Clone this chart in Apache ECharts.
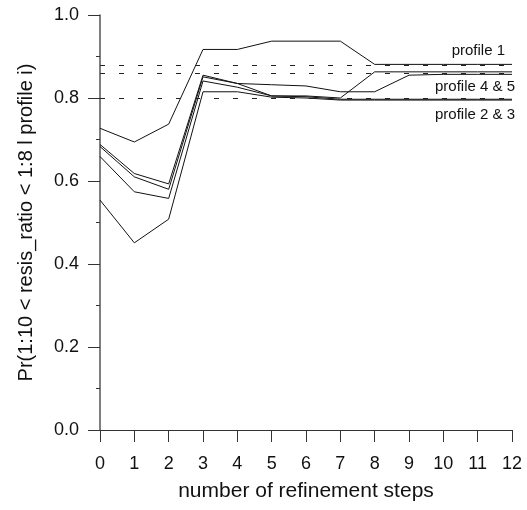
<!DOCTYPE html>
<html>
<head>
<meta charset="utf-8">
<script src="https://cdn.jsdelivr.net/npm/echarts@6/dist/echarts.min.js"></script>
<style>
  html, body { margin: 0; padding: 0; background: #fff; }
  #chart { width: 527px; height: 510px; }
</style>
</head>
<body>
<div id="chart"></div>
<script>
// refinement steps on the x axis
var steps = ["0", "1", "2", "3", "4", "5", "6", "7", "8", "9", "10", "11", "12"];

// probability for each profile
var profile1 = [0.727, 0.694, 0.737, 0.917, 0.917, 0.937, 0.937, 0.937, 0.881, 0.881, 0.881, 0.881, 0.881];
var profile4 = [0.688, 0.618, 0.593, 0.855, 0.835, 0.832, 0.829, 0.815, 0.815, 0.855, 0.857, 0.857, 0.857];
var profile5 = [0.683, 0.610, 0.580, 0.851, 0.835, 0.805, 0.805, 0.800, 0.863, 0.863, 0.863, 0.863, 0.863];
var profile2 = [0.659, 0.574, 0.558, 0.841, 0.826, 0.805, 0.803, 0.797, 0.797, 0.797, 0.797, 0.797, 0.797];
var profile3 = [0.554, 0.451, 0.508, 0.815, 0.815, 0.802, 0.800, 0.795, 0.795, 0.795, 0.795, 0.795, 0.795];

// dashed reference levels
var refLevels = [0.883, 0.863, 0.803];

var yTicks = ["0.0", "0.2", "0.4", "0.6", "0.8", "1.0"];

(function() {
  var myChart = echarts.init(document.getElementById("chart"));
  var fnt = "'Liberation Sans Narrow', 'Liberation Sans', sans-serif";

  function lineSeries(name, data, withRefs) {
    var s = {
      name: name,
      type: "line",
      data: data,
      symbol: "none",
      silent: true,
      lineStyle: { color: "#111", width: 1 },
      z: 3
    };
    if (withRefs) {
      s.markLine = {
        silent: true,
        symbol: ["none", "none"],
        label: { show: false },
        lineStyle: { color: "#222", type: [5, 14], width: 1 },
        data: refLevels.map(function(v) { return { yAxis: v }; })
      };
    }
    return s;
  }

  var option = {
    animation: false,
    grid: {
      left: 100,
      right: 15,
      top: 15,
      bottom: 80
    },
    xAxis: {
      type: "category",
      data: steps,
      boundaryGap: false,
      name: "number of refinement steps",
      nameLocation: "middle",
      nameGap: 51,
      nameTextStyle: { color: "#111", fontSize: 21, fontFamily: fnt },
      axisLine: { lineStyle: { color: "#333", width: 1 } },
      axisTick: { inside: false, length: 12, lineStyle: { color: "#333" } },
      axisLabel: { color: "#111", fontSize: 18, fontFamily: fnt, margin: 25 },
      splitLine: { show: false }
    },
    yAxis: {
      type: "value",
      min: 0,
      max: 1,
      interval: 0.2,
      name: "Pr(1:10 < resis_ratio < 1:8 l profile i)",
      nameLocation: "middle",
      nameGap: 64,
      nameTextStyle: { color: "#111", fontSize: 20, fontFamily: fnt },
      axisLine: { show: true, lineStyle: { color: "#555", width: 1.5 } },
      axisTick: { show: true, length: 12, lineStyle: { color: "#333" } },
      minorTick: { show: true, splitNumber: 2, length: 4, lineStyle: { color: "#333" } },
      axisLabel: {
        color: "#111",
        fontSize: 18,
        fontFamily: fnt,
        margin: 21,
        formatter: function(v) { return yTicks[Math.round(v * 5)]; }
      },
      splitLine: { show: false }
    },
    graphic: [
      { type: "text", right: 22, top: 43, style: { text: "profile 1", fill: "#111", font: "15px " + fnt } },
      { type: "text", right: 12, top: 79, style: { text: "profile 4 & 5", fill: "#111", font: "15px " + fnt } },
      { type: "text", right: 12, top: 107, style: { text: "profile 2 & 3", fill: "#111", font: "15px " + fnt } }
    ],
    series: [
      lineSeries("profile 1", profile1, true),
      lineSeries("profile 2", profile2),
      lineSeries("profile 3", profile3),
      lineSeries("profile 4", profile4),
      lineSeries("profile 5", profile5)
    ]
  };
  myChart.setOption(option);
  window.addEventListener("resize", function() {
    myChart.resize();
  });
})();
</script>
</body>
</html>
